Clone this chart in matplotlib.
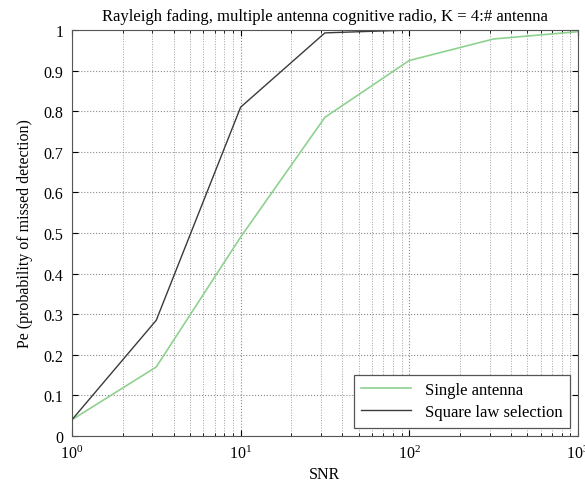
import numpy as np
import matplotlib.pyplot as plt

plt.rcParams['font.family'] = ['Liberation Serif', 'DejaVu Serif']

# SNR points (half-decade steps)
snr_single = [1, 3.16, 10, 31.6, 100, 316, 1000]
pe_single = [0.04, 0.17, 0.49, 0.785, 0.925, 0.978, 0.996]

snr_sls = [1, 3.16, 10, 31.6, 100]
pe_sls = [0.04, 0.285, 0.81, 0.993, 1.0]

title = 'Rayleigh fading, multiple antenna cognitive radio, K = 4:# antenna'

fig = plt.figure(figsize=(5.85, 4.85), dpi=100)
ax = fig.add_axes([0.123, 0.099, 0.865, 0.837])

ax.semilogx(snr_single, pe_single, color='#8fd18f', linewidth=1.2, label='Single antenna')
ax.semilogx(snr_sls, pe_sls, color='#3a3a3a', linewidth=1.0, label='Square law selection')

ax.set_xlim(1, 1000)
ax.set_ylim(0, 1)
ax.set_yticks(np.arange(0, 1.01, 0.1))
ax.set_yticklabels(['0', '0.1', '0.2', '0.3', '0.4', '0.5', '0.6', '0.7', '0.8', '0.9', '1'])

ax.grid(True, which='major', linestyle=':', color='#8a8a8a', linewidth=0.8)
ax.grid(True, which='minor', axis='x', linestyle=':', color='#a0a0a0', linewidth=0.7)

ax.tick_params(which='both', direction='in', top=True, right=True, labelsize=11.5)
ax.tick_params(which='major', length=4)
ax.tick_params(which='minor', length=2)
ax.tick_params(axis='x', pad=6)
ax.tick_params(axis='y', pad=6)
for sp in ax.spines.values():
    sp.set_color('#555555')

ax.set_title(title, fontsize=12, pad=7)
ax.set_xlabel('SNR', fontsize=11.5, labelpad=3)
ax.set_ylabel('Pe (probability of missed detection)', fontsize=11.5, labelpad=8)

leg = ax.legend(loc='lower right', fontsize=12, fancybox=False, framealpha=1,
                edgecolor='#555555', handlelength=3.0, borderaxespad=0.5,
                borderpad=0.45, labelspacing=0.35)
leg.get_frame().set_linewidth(0.9)

fig.savefig('out.png', dpi=100)
